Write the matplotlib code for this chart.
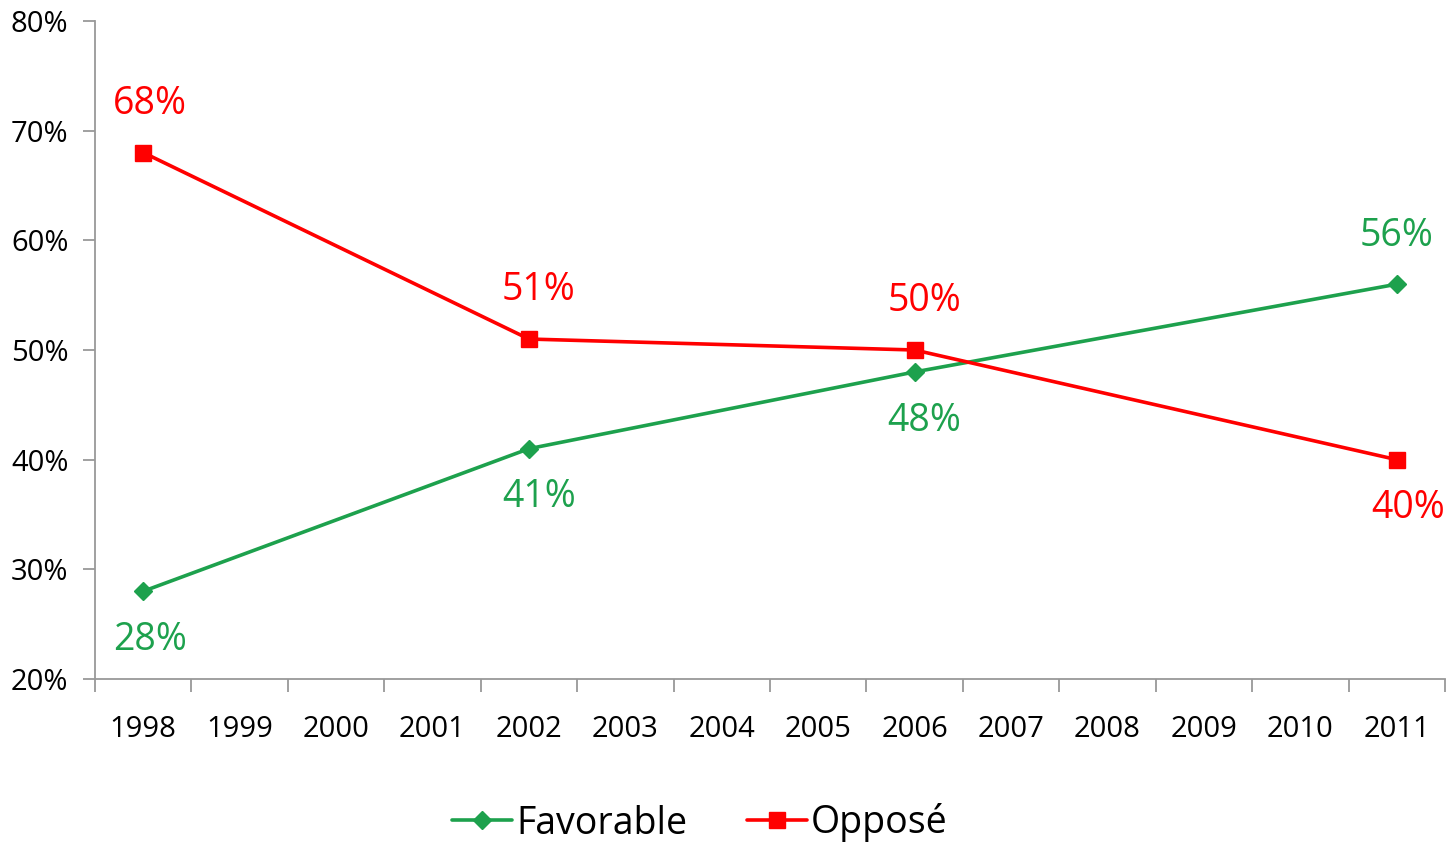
import numpy as np
import matplotlib.pyplot as plt
from matplotlib.ticker import FixedLocator, PercentFormatter

years = [str(y) for y in range(1998, 2012)]
point_years = ['1998', '2002', '2006', '2011']
favorable = [28, 41, 48, 56]
oppose = [68, 51, 50, 40]
fav_label_pos = ['below', 'below', 'below', 'above']
opp_label_pos = ['above', 'above', 'above', 'below']

green = '#1DA14D'
red = '#FF0000'
axis_gray = '#999999'

plt.rcParams['font.family'] = ['Open Sans', 'DejaVu Sans']

fig = plt.figure(figsize=(14.49, 8.49), dpi=100)
ax = fig.add_axes([95 / 1449, 170 / 849, 1350 / 1449, 658 / 849])

x_idx = [years.index(y) for y in point_years]

ax.plot(x_idx, favorable, color=green, lw=2.6, marker='D', ms=9,
        label='Favorable', solid_capstyle='round')
ax.plot(x_idx, oppose, color=red, lw=2.6, marker='s', ms=12,
        label='Opposé', solid_capstyle='round')

def add_labels(values, positions, color):
    for x, v, p in zip(x_idx, values, positions):
        dy = 35 if p == 'above' else -35
        dx = 7
        if x == len(years) - 1:
            dx = 0 if p == 'above' else 8
        if x == 0:
            dx = 5
        ax.annotate(f'{v}%', (x, v), xytext=(dx, dy), textcoords='offset points',
                    ha='center', va='center', color=color, fontsize=27)

add_labels(favorable, fav_label_pos, green)
add_labels(oppose, opp_label_pos, red)

ax.set_xlim(-0.5, len(years) - 0.5)
ax.set_ylim(20, 80)
ax.set_yticks(np.arange(20, 81, 10))
ax.yaxis.set_major_formatter(PercentFormatter(decimals=0))

ax.xaxis.set_major_locator(FixedLocator(np.arange(-0.5, len(years), 1)))
ax.xaxis.set_minor_locator(FixedLocator(np.arange(len(years))))
ax.set_xticklabels([])
ax.set_xticklabels(years, minor=True)
ax.tick_params(axis='x', which='major', length=9, width=1.3, color=axis_gray, direction='out')
ax.tick_params(axis='x', which='minor', length=0, pad=26, labelsize=21)
ax.tick_params(axis='y', length=9, width=1.3, color=axis_gray, labelsize=21, pad=10)

for s in ['top', 'right']:
    ax.spines[s].set_visible(False)
for s in ['left', 'bottom']:
    ax.spines[s].set_color(axis_gray)
    ax.spines[s].set_linewidth(1.3)

fig.legend(loc='center', bbox_to_anchor=(700 / 1449, 1 - 823 / 849), ncol=2,
           frameon=False, fontsize=27, handlelength=1.6, handletextpad=0.1,
           columnspacing=1.6)

fig.savefig('out.png', dpi=100)
